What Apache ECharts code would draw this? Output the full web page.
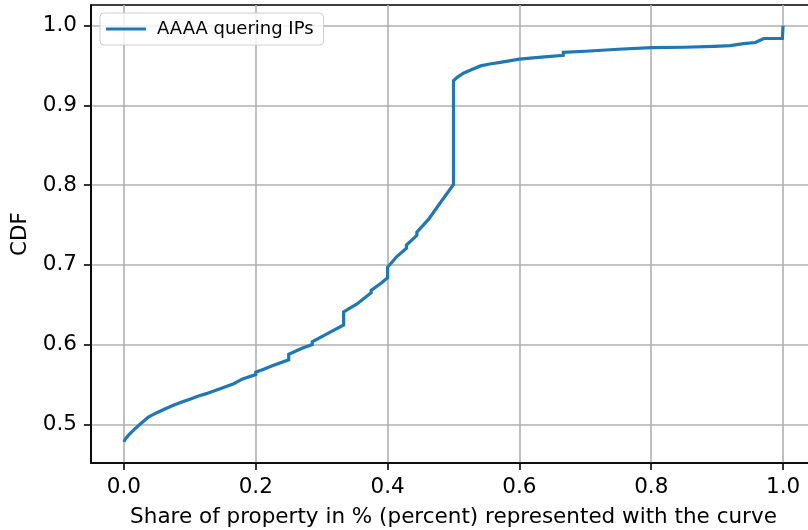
<!DOCTYPE html>
<html>
<head>
<meta charset="utf-8">
<script src="https://cdn.jsdelivr.net/npm/echarts@6/dist/echarts.min.js"></script>
<style>
  html, body { margin: 0; padding: 0; background: #fff; overflow: hidden; }
  #chart { width: 830px; height: 530px; }
</style>
</head>
<body>
<div id="chart"></div>
<script>
// Empirical CDF of the share of property (step points; repeated x = vertical jump)
const shareX = [
  0, 0.002, 0.006, 0.011, 0.017, 0.027, 0.037, 0.05, 0.063, 0.075, 0.088, 0.1, 0.113, 0.125,
  0.1385, 0.15, 0.1665, 0.1667, 0.18, 0.2, 0.2, 0.212, 0.227, 0.25, 0.25, 0.27,
  0.2857, 0.2857, 0.308, 0.3333, 0.3333, 0.3536, 0.375, 0.375, 0.39, 0.4, 0.4,
  0.414, 0.4286, 0.4286, 0.4444, 0.4444, 0.462, 0.48, 0.5, 0.5,
  0.505, 0.515, 0.528, 0.541, 0.555, 0.571, 0.6, 0.625, 0.6666, 0.6667, 0.7,
  0.75, 0.75, 0.8, 0.85, 0.895, 0.92, 0.94, 0.958, 0.966, 0.9706, 0.999, 1.0
];
const cdfY = [
  0.478, 0.4815, 0.4855, 0.490, 0.4946, 0.502, 0.509, 0.5146, 0.5196, 0.524, 0.528, 0.5315, 0.5355, 0.5385,
  0.5425, 0.546, 0.551, 0.553, 0.557, 0.5625, 0.5655, 0.569, 0.574, 0.581, 0.588, 0.5955,
  0.600, 0.6035, 0.6134, 0.6246, 0.641, 0.651, 0.665, 0.668, 0.677, 0.684, 0.697,
  0.7105, 0.721, 0.725, 0.737, 0.741, 0.757, 0.778, 0.801, 0.931,
  0.935, 0.9405, 0.945, 0.9496, 0.952, 0.954, 0.958, 0.960, 0.963, 0.9666, 0.968,
  0.9705, 0.972, 0.9725, 0.973, 0.974, 0.975, 0.9775, 0.979, 0.982, 0.984, 0.984, 1.0
];
const xTicks = [0.0, 0.2, 0.4, 0.6, 0.8, 1.0];
const yTicks = [0.5, 0.6, 0.7, 0.8, 0.9, 1.0];
const seriesName = 'AAAA quering IPs';

const points = shareX.map((x, i) => [x, cdfY[i]]);

const font = 'DejaVu Sans';
const axisFontSize = 21.5;
const chart = echarts.init(document.getElementById('chart'), null, { renderer: 'canvas' });
chart.setOption({
  animation: false,
  backgroundColor: '#fff',
  textStyle: { fontFamily: font },
  grid: {
    left: 91, top: 5, width: 725, height: 458,
    outerBoundsMode: 'none', containLabel: false,
    show: true, borderColor: '#000', borderWidth: 1.6, backgroundColor: 'transparent'
  },
  legend: {
    left: 100, top: 13,
    padding: [7, 10, 7, 6],
    itemWidth: 40, itemHeight: 3, itemGap: 10,
    borderColor: '#cccccc', borderWidth: 1, borderRadius: 4,
    backgroundColor: 'rgba(255,255,255,0.8)',
    textStyle: { fontFamily: font, fontSize: 18, color: '#000', padding: [0, 0, 0, 6] },
    data: [{ name: seriesName, icon: 'rect' }]
  },
  xAxis: {
    type: 'value', min: -0.05, max: 1.05,
    name: 'Share of property in % (percent) represented with the curve',
    nameLocation: 'middle', nameGap: 43,
    nameTextStyle: { fontFamily: font, fontSize: axisFontSize, color: '#000' },
    axisLine: { show: true, onZero: false, lineStyle: { color: '#000', width: 1.6 } },
    axisTick: { show: true, length: 7, customValues: xTicks, lineStyle: { color: '#000', width: 1.6 } },
    axisLabel: { customValues: xTicks, margin: 13, fontFamily: font, fontSize: axisFontSize, color: '#000',
      formatter: v => v.toFixed(1) },
    splitLine: { show: true, lineStyle: { color: '#b0b0b0', width: 1.6 } }
  },
  yAxis: {
    type: 'value', min: 0.4515, max: 1.026,
    name: 'CDF', nameLocation: 'middle', nameGap: 58, nameRotate: 90,
    nameTextStyle: { fontFamily: font, fontSize: axisFontSize, color: '#000' },
    axisLine: { show: true, onZero: false, lineStyle: { color: '#000', width: 1.6 } },
    axisTick: { show: true, length: 7, customValues: yTicks, lineStyle: { color: '#000', width: 1.6 } },
    axisLabel: { customValues: yTicks, margin: 14, fontFamily: font, fontSize: axisFontSize, color: '#000',
      formatter: v => v.toFixed(1) },
    splitLine: { show: true, lineStyle: { color: '#b0b0b0', width: 1.6 } }
  },
  series: [{
    name: seriesName,
    type: 'line',
    data: points,
    symbol: 'none',
    lineStyle: { color: '#1f77b4', width: 3.2, join: 'miter' },
    itemStyle: { color: '#1f77b4' }
  }]
});
</script>
</body>
</html>
